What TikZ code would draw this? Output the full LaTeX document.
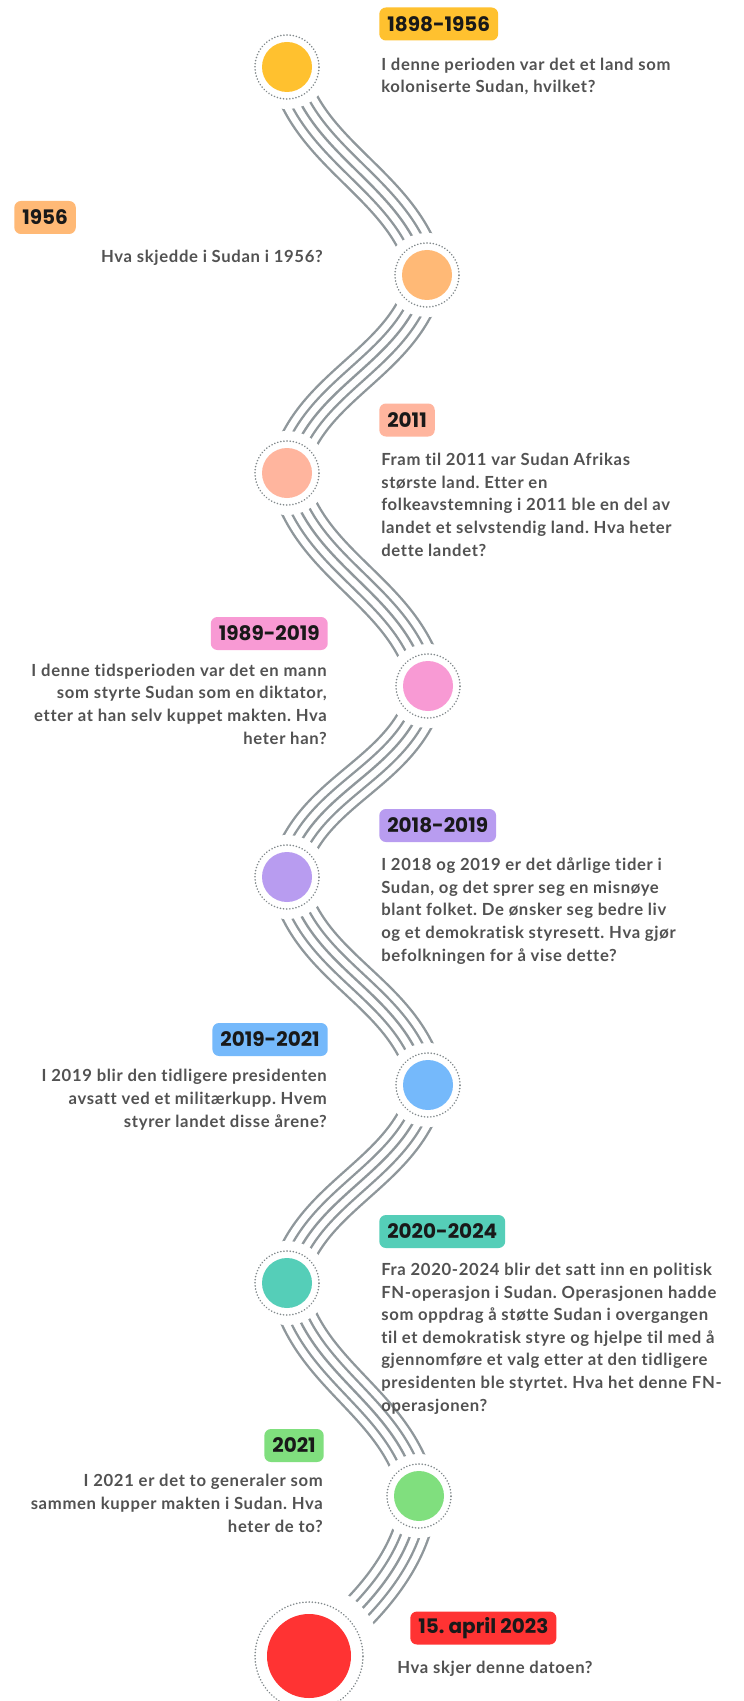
\documentclass[tikz,border=0pt]{standalone}
\usepackage{fontspec}
\setmainfont{Lato}[LetterSpace=4.0, Ligatures=NoCommon]
\newfontfamily\yearfont{Poppins}
\usetikzlibrary{backgrounds}
\frenchspacing

\definecolor{strandgray}{HTML}{8F979B}
\definecolor{textgray}{HTML}{525252}
\definecolor{cyellow}{HTML}{FFC12F}
\definecolor{corange}{HTML}{FFB976}
\definecolor{csalmon}{HTML}{FFB59E}
\definecolor{cpink}{HTML}{F89AD4}
\definecolor{cpurple}{HTML}{B89CF0}
\definecolor{cblue}{HTML}{75B9FB}
\definecolor{cteal}{HTML}{55CEB8}
\definecolor{cgreen}{HTML}{80DF7E}
\definecolor{cred}{HTML}{FF3333}

\tikzset{
  dot/.style={circle, fill=#1, minimum size=37.5pt, inner sep=0pt},
  ring/.style={draw=strandgray!90!black, line width=1.3pt, dash pattern=on 0.05pt off 2.3pt, line cap=round},
  yearbox/.style={fill=#1, rounded corners=5pt, minimum height=24.75pt, inner xsep=6pt, inner ysep=0pt,
    font=\yearfont\bfseries\fontsize{15}{18}\selectfont, text=black!90},
  question/.style={font=\bfseries\fontsize{12.5}{16.9}\selectfont, text=textgray, inner sep=0pt},
}

% five parallel strands between two nodes
\newcommand{\wave}[4]{%
  \foreach \w/\c in {28.8/strandgray, 25.2/white, 15.3/strandgray, 11.7/white, 1.8/strandgray}
    \draw[line width=\w pt, \c] (#1.center) .. controls +#2 and +#3 .. (#4.center);
}

\begin{document}
\begin{tikzpicture}[x=0.75pt, y=-0.75pt]
  \useasboundingbox (0,0) rectangle (743,1701);

  % timeline dots
  \node[dot=cyellow] (d1) at (287,67) {};
  \node[dot=corange] (d2) at (427,275) {};
  \node[dot=csalmon] (d3) at (287,473) {};
  \node[dot=cpink]   (d4) at (428,686) {};
  \node[dot=cpurple] (d5) at (287,877) {};
  \node[dot=cblue]   (d6) at (428,1085) {};
  \node[dot=cteal]   (d7) at (287,1283) {};
  \node[dot=cgreen]  (d8) at (419,1496) {};
  \node[dot=cred, minimum size=63pt] (d9) at (309,1656) {};
  \foreach \n in {d1,d2,d3,d4,d5,d6,d7,d8}
    \draw[ring] (\n.center) circle (24pt);
  \draw[ring] (d9.center) circle (40.5pt);

  \begin{pgfonlayer}{background}
    \fill[white] (0,0) rectangle (743,1701);
    \wave{d1}{(20,90)}{(-20,-90)}{d2}
    \wave{d2}{(-20,90)}{(20,-90)}{d3}
    \wave{d3}{(20,95)}{(-20,-95)}{d4}
    \wave{d4}{(-20,90)}{(20,-90)}{d5}
    \wave{d5}{(20,95)}{(-20,-95)}{d6}
    \wave{d6}{(-20,90)}{(20,-90)}{d7}
    \wave{d7}{(20,95)}{(-20,-95)}{d8}
    \wave{d8}{(-5,70)}{(45,-35)}{d9}
    \foreach \n in {d1,d2,d3,d4,d5,d6,d7,d8}
      \fill[white] (\n.center) circle (31.5pt);
    \fill[white] (d9.center) circle (54pt);
  \end{pgfonlayer}

  % year labels
  \node[yearbox=cyellow, anchor=west] (y1) at (379,24) {1898-1956};
  \node[yearbox=corange, anchor=west] (y2) at (14,217.5) {1956\hspace{7.5pt}};
  \node[yearbox=csalmon, anchor=west] (y3) at (379,420) {2011};
  \node[yearbox=cpink, anchor=east] (y4) at (328,633.5) {1989-2019};
  \node[yearbox=cpurple, anchor=west] (y5) at (379,825.5) {2018-2019};
  \node[yearbox=cblue, anchor=east] (y6) at (328,1039.5) {2019-2021};
  \node[yearbox=cteal, anchor=west] (y7) at (379,1231.5) {2020-2024};
  \node[yearbox=cgreen, anchor=east] (y8) at (324,1445.5) {2021};
  \node[yearbox=cred, anchor=west] (y9) at (410,1628) {15. april 2023};

  % questions (base = last line)
  \node[question, anchor=base west, align=left] (q1) at (381,93)
    {I denne perioden var det et land som\\koloniserte Sudan, hvilket?};
  \node[question, anchor=base east, align=right] (q2) at (323,263)
    {Hva skjedde i Sudan i 1956?};
  \node[question, anchor=base west, align=left] (q3) at (381,556)
    {Fram til 2011 var Sudan Afrikas\\største land. Etter en\\folkeavstemning i 2011 ble en del av\\landet et selvstendig land. Hva heter\\dette landet?};
  \node[question, anchor=base east, align=right] (q4) at (327,744)
    {I denne tidsperioden var det en mann\\som styrte Sudan som en diktator,\\etter at han selv kuppet makten. Hva\\heter han?\hspace{2pt}};
  \node[question, anchor=base west, align=left] (q5) at (381,961)
    {I 2018 og 2019 er det dårlige tider i\\Sudan, og det sprer seg en misnøye\\blant folket. De ønsker seg bedre liv\\og et demokratisk styresett. Hva gjør\\befolkningen for å vise dette?};
  \node[question, anchor=base east, align=right] (q6) at (327,1127)
    {I 2019 blir den tidligere presidenten\\avsatt ved et militærkupp. Hvem\\styrer landet disse årene?};
  \node[question, anchor=base west, align=left] (q7) at (381,1411)
    {Fra 2020-2024 blir det satt inn en politisk\\FN-operasjon i Sudan. Operasjonen hadde\\som oppdrag å støtte Sudan i overgangen\\til et demokratisk styre og hjelpe til med å\\gjennomføre et valg etter at den tidligere\\presidenten ble styrtet. Hva het denne FN-\\operasjonen?};
  \node[question, anchor=base east, align=right] (q8) at (323,1532)
    {I 2021 er det to generaler som\\sammen kupper makten i Sudan. Hva\\heter de to?};
  \node[question, anchor=base west, align=left] (q9) at (397,1673)
    {Hva skjer denne datoen?};
\end{tikzpicture}
\end{document}
